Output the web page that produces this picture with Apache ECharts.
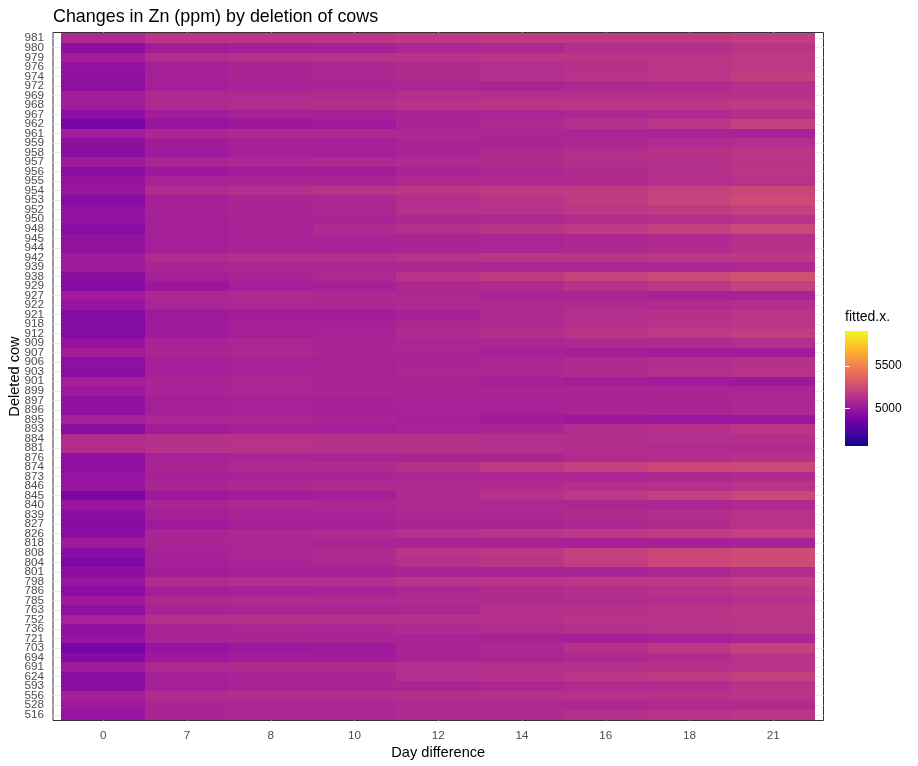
<!DOCTYPE html>
<html><head><meta charset="utf-8">
<style>html,body{margin:0;padding:0;background:#fff}#c{width:918px;height:766px}</style>
<script src="https://cdn.jsdelivr.net/npm/echarts@6/dist/echarts.min.js"></script></head>
<body><div id="c"></div>
<script>
const dayLabels=['0','7','8','10','12','14','16','18','21'];
const cowLabels=[981,980,979,976,974,972,969,968,967,962,961,959,958,957,956,955,954,953,952,950,948,945,944,942,939,938,929,927,922,921,918,912,909,907,906,903,901,899,897,896,895,893,884,881,876,874,873,846,845,840,839,827,826,818,808,804,801,798,786,785,763,752,736,721,703,694,691,624,593,556,528,516];
const legendTicks=[5000,5500];
const legendRange=[4561,5907];
const plasma=['#0D0887','#46039F','#7201A8','#9C179E','#BD3786','#D8576B','#ED7953','#FB9F3A','#FDCA26','#F0F921'];
// one row per cow, top to bottom; columns follow dayLabels
const fitted=[
[5090,5145,5155,5155,5170,5170,5175,5175,5185],
[4955,5035,5050,5055,5085,5090,5120,5120,5150],
[5040,5110,5125,5135,5140,5145,5150,5155,5165],
[4975,5055,5075,5085,5105,5115,5130,5145,5165],
[4965,5055,5075,5085,5105,5115,5135,5155,5190],
[4960,5050,5065,5070,5080,5075,5090,5100,5125],
[5035,5090,5100,5105,5120,5115,5120,5125,5130],
[5035,5095,5110,5120,5135,5145,5155,5160,5175],
[4955,5035,5055,5055,5070,5075,5085,5100,5120],
[4885,4990,5015,5030,5070,5095,5125,5155,5200],
[5040,5085,5095,5095,5090,5080,5070,5065,5060],
[4960,5035,5050,5050,5070,5075,5085,5100,5115],
[4950,5025,5050,5050,5070,5105,5120,5135,5155],
[5030,5075,5085,5090,5100,5105,5120,5125,5140],
[4940,5015,5035,5035,5065,5085,5105,5125,5145],
[4985,5060,5070,5070,5095,5095,5105,5115,5135],
[4995,5100,5115,5135,5155,5165,5180,5205,5230],
[4935,5055,5075,5085,5120,5140,5175,5215,5250],
[4975,5060,5075,5085,5125,5135,5155,5175,5200],
[4975,5050,5065,5070,5085,5090,5110,5120,5135],
[4945,5050,5065,5095,5120,5140,5170,5195,5240],
[4975,5050,5065,5070,5075,5075,5085,5100,5125],
[4975,5050,5065,5065,5075,5080,5090,5105,5130],
[5030,5105,5115,5120,5135,5145,5150,5155,5165],
[5030,5075,5085,5085,5085,5080,5080,5080,5090],
[4955,5050,5070,5090,5135,5170,5210,5240,5280],
[4925,5010,5045,5055,5085,5105,5135,5160,5200],
[5035,5085,5095,5090,5090,5075,5070,5060,5065],
[4990,5075,5085,5085,5095,5095,5100,5105,5115],
[4925,5020,5035,5035,5055,5090,5115,5130,5150],
[4925,5025,5045,5055,5085,5095,5120,5135,5155],
[4925,5025,5045,5060,5100,5115,5145,5165,5190],
[4985,5065,5080,5075,5085,5085,5095,5105,5115],
[5040,5075,5085,5075,5075,5060,5050,5040,5035],
[4960,5045,5060,5060,5075,5085,5100,5110,5130],
[4950,5045,5060,5060,5080,5085,5100,5115,5135],
[5045,5070,5080,5070,5070,5055,5040,5025,5015],
[5015,5065,5080,5070,5075,5070,5070,5070,5075],
[4965,5045,5060,5055,5065,5060,5070,5075,5085],
[4965,5045,5060,5055,5060,5060,5065,5075,5090],
[5045,5080,5080,5070,5055,5030,5015,5005,5000],
[4945,5035,5050,5045,5060,5075,5110,5125,5155],
[5105,5125,5130,5125,5125,5120,5120,5115,5115],
[5110,5130,5135,5130,5130,5115,5110,5105,5100],
[4965,5060,5075,5070,5075,5080,5100,5110,5130],
[4960,5075,5095,5100,5130,5165,5200,5230,5240],
[4990,5055,5065,5070,5080,5080,5080,5085,5100],
[5000,5075,5090,5095,5105,5105,5120,5125,5140],
[4900,5015,5040,5050,5100,5130,5165,5195,5235],
[5000,5075,5085,5085,5095,5090,5085,5085,5095],
[4955,5050,5065,5070,5085,5090,5105,5115,5135],
[4935,5030,5045,5055,5070,5075,5085,5105,5135],
[4945,5075,5090,5095,5130,5145,5165,5180,5200],
[5030,5075,5080,5075,5075,5065,5060,5055,5060],
[4940,5060,5080,5100,5140,5165,5200,5230,5255],
[4905,5045,5065,5090,5125,5150,5190,5225,5255],
[4955,5040,5055,5055,5070,5065,5070,5080,5110],
[4995,5105,5115,5115,5140,5145,5160,5170,5190],
[4950,5045,5060,5065,5090,5105,5120,5130,5150],
[5020,5090,5100,5095,5100,5100,5110,5110,5125],
[4965,5065,5080,5080,5085,5115,5125,5140,5160],
[5060,5120,5130,5125,5130,5130,5140,5140,5150],
[4965,5065,5080,5080,5100,5110,5125,5135,5150],
[4990,5060,5070,5065,5070,5060,5055,5055,5070],
[4885,4990,5015,5030,5065,5085,5130,5160,5200],
[4925,5015,5040,5035,5065,5080,5095,5110,5135],
[5030,5090,5105,5105,5115,5120,5125,5130,5140],
[4950,5055,5070,5075,5115,5130,5150,5170,5195],
[4950,5050,5065,5070,5075,5085,5100,5110,5135],
[5050,5110,5120,5120,5120,5125,5130,5130,5140],
[5015,5075,5085,5085,5095,5090,5090,5095,5105],
[4990,5075,5085,5085,5100,5105,5125,5135,5155]
];
const cells=[];
fitted.forEach((row,r)=>row.forEach((v,c)=>cells.push([c,r,v])));
const seq=n=>Array.from({length:n},(_,i)=>i);
const font='"Liberation Sans",Arial,sans-serif';
const chart=echarts.init(document.getElementById('c'),null,{renderer:'canvas'});
const cowIdx=seq(cowLabels.length);
chart.setOption({
  animation:false,
  backgroundColor:'#fff',
  textStyle:{fontFamily:font},
  title:[
    {text:'Changes in Zn (ppm) by deletion of cows',left:53,top:8,padding:0,textStyle:{fontFamily:font,fontSize:17.9,fontWeight:'normal',color:'#000'}},
    {text:'fitted.x.',left:845,top:310,padding:0,textStyle:{fontFamily:font,fontSize:14,fontWeight:'normal',color:'#000'}}
  ],
  grid:[
    {left:53,top:32.5,width:770.5,height:688,show:true,outerBoundsMode:'none',containLabel:false,backgroundColor:'#fff',borderColor:'#333',borderWidth:1},
    {left:845,top:331,width:23,height:115,outerBoundsMode:'none',containLabel:false}
  ],
  xAxis:[
    {type:'value',gridIndex:0,min:-0.6,max:8.6,
     name:'Day difference',nameLocation:'middle',nameGap:25,nameMoveOverlap:false,nameTextStyle:{fontSize:14.6,color:'#000',fontFamily:font},
     axisLine:{show:false},
     axisTick:{show:true,length:4,lineStyle:{color:'#333'},customValues:seq(dayLabels.length)},
     axisLabel:{color:'#4D4D4D',fontSize:11.7,margin:9,customValues:seq(dayLabels.length),formatter:v=>dayLabels[v]},
     splitLine:{show:true,lineStyle:{color:'#EBEBEB',width:1}}},
    {type:'value',gridIndex:1,min:0,max:1,show:false}
  ],
  yAxis:[
    {type:'value',gridIndex:0,inverse:true,min:-0.6,max:71.6,
     name:'Deleted cow',nameLocation:'middle',nameGap:31,nameMoveOverlap:false,nameTextStyle:{fontSize:14.6,color:'#000',fontFamily:font},
     axisLine:{show:false},
     axisTick:{show:true,length:4,lineStyle:{color:'#333'},customValues:cowIdx},
     axisLabel:{color:'#4D4D4D',fontSize:11.7,margin:9,customValues:[-0.6,...cowIdx,71.6],formatter:v=>cowLabels[v]===undefined?'':String(cowLabels[v]),hideOverlap:false,showMinLabel:false,showMaxLabel:false},
     splitLine:{show:true,lineStyle:{color:'#EBEBEB',width:1}}},
    {type:'value',gridIndex:1,position:'right',min:legendRange[0],max:legendRange[1],z:20,
     axisLine:{show:false},splitLine:{show:false},
     axisTick:{show:true,inside:true,length:4.6,lineStyle:{color:'#fff',width:1},customValues:legendTicks},
     axisLabel:{color:'#000',fontSize:12,margin:7,customValues:legendTicks,formatter:v=>String(v)}},
    {type:'value',gridIndex:1,position:'left',min:legendRange[0],max:legendRange[1],z:20,
     axisLine:{show:false},splitLine:{show:false},
     axisTick:{show:true,inside:true,length:4.6,lineStyle:{color:'#fff',width:1},customValues:legendTicks},
     axisLabel:{show:false}}
  ],
  visualMap:{type:'continuous',show:false,seriesIndex:0,dimension:2,min:legendRange[0],max:legendRange[1],inRange:{color:plasma}},
  series:[{
    type:'custom',xAxisIndex:0,yAxisIndex:0,coordinateSystem:'cartesian2d',clip:false,silent:true,
    encode:{x:0,y:1},data:cells,
    renderItem(params,api){
      const c=api.value(0),r=api.value(1);
      const a=api.coord([c-0.5,r-0.5]),b=api.coord([c+0.5,r+0.5]);
      const x0=Math.round(a[0]),x1=Math.round(b[0]),y0=Math.round(a[1]),y1=Math.round(b[1]);
      return {type:'rect',shape:{x:x0,y:y0,width:x1-x0,height:y1-y0},style:{fill:api.visual('color')}};
    }
  },{
    type:'custom',xAxisIndex:1,yAxisIndex:1,coordinateSystem:'cartesian2d',clip:false,silent:true,z:1,
    data:[[0,legendRange[0],1,legendRange[1]]],
    renderItem(params,api){
      const a=api.coord([api.value(0),api.value(3)]),b=api.coord([api.value(2),api.value(1)]);
      return {type:'rect',shape:{x:a[0],y:a[1],width:b[0]-a[0],height:b[1]-a[1]},
        style:{fill:new echarts.graphic.LinearGradient(0,1,0,0,plasma.map((color,i)=>({offset:i/(plasma.length-1),color})))}};
    }
  }]
});
</script></body></html>
